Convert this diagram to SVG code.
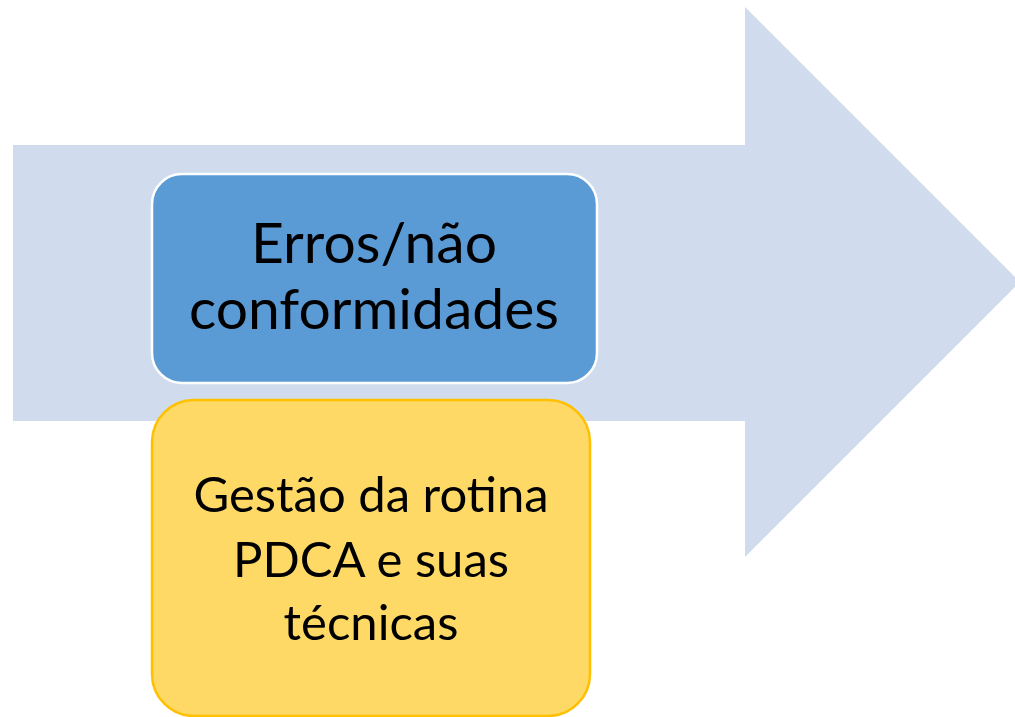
<svg xmlns="http://www.w3.org/2000/svg" width="1015" height="717" viewBox="0 0 1015 717">
<style>
.t{font-family:Lato,"Open Sans","Liberation Sans",sans-serif;fill:#000;text-anchor:middle}
.a{font-size:57px}
.b{font-size:49px}
</style>
<rect width="1015" height="717" fill="#fff"/>
<g id="arrow">
<polygon points="13,145 745,145 745,7 1020,282 745,557 745,421 13,421" fill="#D0DCEE"/>
</g>
<g id="node-erros">
<rect x="152" y="174" width="445" height="209" rx="30" fill="#5B9BD5" stroke="#fff" stroke-width="2.5"/>
<text class="t a" x="374" y="263">Erros/não</text>
<text class="t a" x="374" y="329">conformidades</text>
</g>
<g id="node-gestao">
<rect x="152" y="400" width="438" height="316" rx="42" fill="#FFD966" stroke="#FFC000" stroke-width="2.5"/>
<text class="t b" x="371" y="512">Gestão da rotina</text>
<text class="t b" x="371" y="577">PDCA e suas</text>
<text class="t b" x="371" y="640">técnicas</text>
</g>
<g id="connectors"/>
</svg>
